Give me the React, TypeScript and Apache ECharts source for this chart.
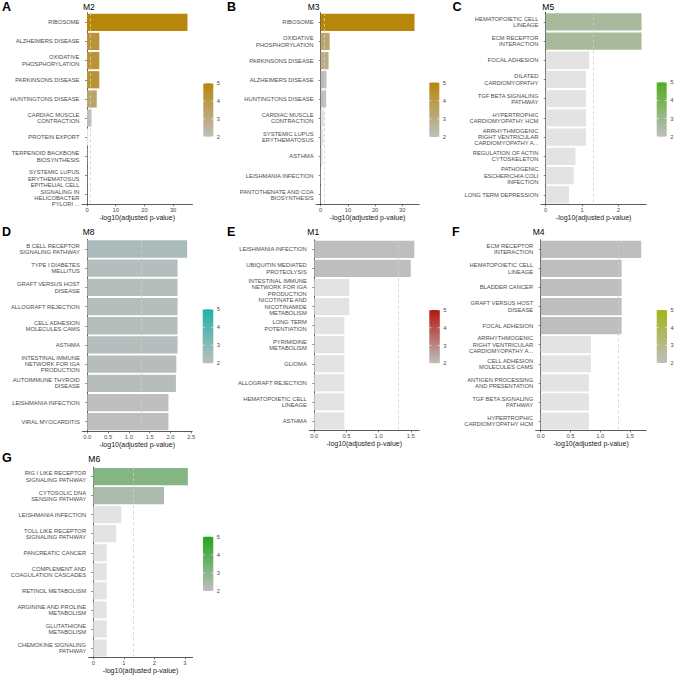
import React, { useEffect, useRef } from "react";
import * as echarts from "echarts";

// ---------- data ----------
const catsA = ["RIBOSOME", "ALZHEIMERS DISEASE", "OXIDATIVE\nPHOSPHORYLATION", "PARKINSONS DISEASE", "HUNTINGTONS DISEASE", "CARDIAC MUSCLE\nCONTRACTION", "PROTEIN EXPORT", "TERPENOID BACKBONE\nBIOSYNTHESIS", "SYSTEMIC LUPUS\nERYTHEMATOSUS", "EPITHELIAL CELL\nSIGNALING IN\nHELICOBACTER\nPYLORI ..."];
const valsA = [35, 4.3, 4.3, 4.3, 3.4, 1.6, 0.4, 0.1, 0.06, 0.05];
const ticksA = [0, 10, 20, 30];

const catsB = ["RIBOSOME", "OXIDATIVE\nPHOSPHORYLATION", "PARKINSONS DISEASE", "ALZHEIMERS DISEASE", "HUNTINGTONS DISEASE", "CARDIAC MUSCLE\nCONTRACTION", "SYSTEMIC LUPUS\nERYTHEMATOSUS", "ASTHMA", "LEISHMANIA INFECTION", "PANTOTHENATE AND COA\nBIOSYNTHESIS"];
const valsB = [34.5, 3.3, 2.9, 2.1, 2.0, 1.2, 1.0, 0.7, 0.2, 0.1];
const ticksB = [0, 10, 20, 30];

const catsC = ["HEMATOPOIETIC CELL\nLINEAGE", "ECM RECEPTOR\nINTERACTION", "FOCAL ADHESION", "DILATED\nCARDIOMYOPATHY", "TGF BETA SIGNALING\nPATHWAY", "HYPERTROPHIC\nCARDIOMYOPATHY HCM", "ARRHYTHMOGENIC\nRIGHT VENTRICULAR\nCARDIOMYOPATHY A...", "REGULATION OF ACTIN\nCYTOSKELETON", "PATHOGENIC\nESCHERICHIA COLI\nINFECTION", "LONG TERM DEPRESSION"];
const valsC = [2.64, 2.64, 1.2, 1.11, 1.11, 1.11, 1.11, 0.82, 0.77, 0.64];
const ticksC = [0, 1, 2];

const catsD = ["B CELL RECEPTOR\nSIGNALING PATHWAY", "TYPE I DIABETES\nMELLITUS", "GRAFT VERSUS HOST\nDISEASE", "ALLOGRAFT REJECTION", "CELL ADHESION\nMOLECULES CAMS", "ASTHMA", "INTESTINAL IMMUNE\nNETWORK FOR IGA\nPRODUCTION", "AUTOIMMUNE THYROID\nDISEASE", "LEISHMANIA INFECTION", "VIRAL MYOCARDITIS"];
const valsD = [2.4, 2.17, 2.17, 2.17, 2.17, 2.17, 2.14, 2.13, 1.95, 1.95];
const ticksD = [0, 0.5, 1, 1.5, 2, 2.5];

const catsE = ["LEISHMANIA INFECTION", "UBIQUITIN MEDIATED\nPROTEOLYSIS", "INTESTINAL IMMUNE\nNETWORK FOR IGA\nPRODUCTION", "NICOTINATE AND\nNICOTINAMIDE\nMETABOLISM", "LONG TERM\nPOTENTIATION", "PYRIMIDINE\nMETABOLISM", "GLIOMA", "ALLOGRAFT REJECTION", "HEMATOPOIETIC CELL\nLINEAGE", "ASTHMA"];
const valsE = [1.555, 1.5, 0.545, 0.545, 0.467, 0.467, 0.467, 0.467, 0.467, 0.467];
const ticksE = [0, 0.5, 1, 1.5];

const catsF = ["ECM RECEPTOR\nINTERACTION", "HEMATOPOIETIC CELL\nLINEAGE", "BLADDER CANCER", "GRAFT VERSUS HOST\nDISEASE", "FOCAL ADHESION", "ARRHYTHMOGENIC\nRIGHT VENTRICULAR\nCARDIOMYOPATHY A...", "CELL ADHESION\nMOLECULES CAMS", "ANTIGEN PROCESSING\nAND PRESENTATION", "TGF BETA SIGNALING\nPATHWAY", "HYPERTROPHIC\nCARDIOMYOPATHY HCM"];
const valsF = [1.69, 1.36, 1.36, 1.36, 1.36, 0.845, 0.845, 0.81, 0.81, 0.81];
const ticksF = [0, 0.5, 1, 1.5];

const catsG = ["RIG I LIKE RECEPTOR\nSIGNALING PATHWAY", "CYTOSOLIC DNA\nSENSING PATHWAY", "LEISHMANIA INFECTION", "TOLL LIKE RECEPTOR\nSIGNALING PATHWAY", "PANCREATIC CANCER", "COMPLEMENT AND\nCOAGULATION CASCADES", "RETINOL METABOLISM", "ARGININE AND PROLINE\nMETABOLISM", "GLUTATHIONE\nMETABOLISM", "CHEMOKINE SIGNALING\nPATHWAY"];
const valsG = [3.1, 2.32, 0.92, 0.75, 0.44, 0.44, 0.44, 0.44, 0.44, 0.44];
const ticksG = [0, 1, 2, 3];

const colorBreaks = [2, 3, 4, 5];
const SIG_LINE = 1.301; // -log10(0.05)
const X_TITLE = "-log10(adjusted p-value)";

// ---------- styling / layout ----------
const FONT = "'Liberation Sans', Arial, Helvetica, sans-serif";
const LOW = "#bebebe";
const NA_COLOR = "#e3e3e3";
const TEXT_GREY = "#4d4d4d";

const panels = [
  { letter: "A", title: "M2", cats: catsA, vals: valsA, ticks: ticksA, dec: 0, high: "#b8860b",
    x0: 87, scale: 2.87, top: 12.7, height: 191.6, titleX: 83, titleY: 6.5, lx: 2, ly: 7.3,
    cb: { x: 203.3, y: 83.3, w: 10, h: 53.4 } },
  { letter: "B", title: "M3", cats: catsB, vals: valsB, ticks: ticksB, dec: 0, high: "#b8860b",
    x0: 320.7, scale: 2.72, top: 12.7, height: 191.6, titleX: 307.7, titleY: 6.5, lx: 227, ly: 7.3,
    cb: { x: 429.3, y: 82.5, w: 10, h: 54.5 } },
  { letter: "C", title: "M5", cats: catsC, vals: valsC, ticks: ticksC, dec: 0, high: "#52ae1e",
    x0: 545.7, scale: 36.3, top: 12.2, height: 192.2, titleX: 542.3, titleY: 6.5, lx: 452.5, ly: 7.3,
    cb: { x: 656.7, y: 82.3, w: 10, h: 54.4 } },
  { letter: "D", title: "M8", cats: catsD, vals: valsD, ticks: ticksD, dec: 1, high: "#20b0ab",
    x0: 87.3, scale: 41.6, top: 239.4, height: 191.9, titleX: 82.7, titleY: 232.3, lx: 2, ly: 232.3,
    cb: { x: 202.7, y: 309.3, w: 10.6, h: 54 } },
  { letter: "E", title: "M1", cats: catsE, vals: valsE, ticks: ticksE, dec: 1, high: "#b3170e",
    x0: 314.3, scale: 64.3, top: 239.8, height: 190.7, titleX: 307.3, titleY: 232.3, lx: 227, ly: 232.3,
    cb: { x: 429.3, y: 310, w: 10.5, h: 53.3 } },
  { letter: "F", title: "M4", cats: catsF, vals: valsF, ticks: ticksF, dec: 1, high: "#a2b417",
    x0: 540.7, scale: 59.5, top: 239.8, height: 190.7, titleX: 532.7, titleY: 232.3, lx: 452, ly: 232.3,
    cb: { x: 656.7, y: 310, w: 10.3, h: 53 } },
  { letter: "G", title: "M6", cats: catsG, vals: valsG, ticks: ticksG, dec: 0, high: "#22a61c",
    x0: 93.3, scale: 30.5, top: 467.1, height: 190.4, titleX: 88.3, titleY: 459, lx: 2, ly: 457.8,
    cb: { x: 203, y: 536.7, w: 10.3, h: 54.3 } },
];

// fill: significant terms are coloured on the 2..5 scale (squished), others NA
const fillOf = (v: number) => (v > SIG_LINE ? Math.min(Math.max(v, 2), 5) : -1);

function buildOption() {
  const grid: any[] = [];
  const xAxis: any[] = [];
  const yAxis: any[] = [];
  const series: any[] = [];
  const graphic: any[] = [];

  panels.forEach((p, i) => {
    const maxV = Math.max(...p.vals);
    const min = -0.05 * maxV;
    const max = 1.05 * maxV;
    const left = p.x0 + min * p.scale;
    const width = (max - min) * p.scale;
    grid.push({ left, top: p.top, width, height: p.height, containLabel: false, outerBoundsMode: "none" });
    xAxis.push({
      type: "value", gridIndex: i, min, max,
      axisLine: { show: true, onZero: false, lineStyle: { color: "#333", width: 0.8 } },
      axisTick: { show: true, length: 2, customValues: p.ticks, lineStyle: { color: "#333", width: 0.6 } },
      axisLabel: { customValues: p.ticks, fontSize: 5.8, color: TEXT_GREY, fontFamily: FONT, margin: 2.5,
        formatter: (v: number) => v.toFixed(p.dec) },
      splitLine: { show: false },
      name: X_TITLE, nameLocation: "middle", nameGap: 9.8,
      nameTextStyle: { fontSize: 7, color: "#1a1a1a", fontFamily: FONT },
    });
    yAxis.push({
      type: "category", gridIndex: i, data: p.cats, inverse: true,
      axisLine: { show: true, lineStyle: { color: "#333", width: 0.8 } },
      axisTick: { show: true, alignWithLabel: true, length: 2, lineStyle: { color: "#333", width: 0.6 } },
      axisLabel: { interval: 0, fontSize: 5.8, lineHeight: 6.3, color: TEXT_GREY, fontFamily: FONT, margin: 2.5 },
      splitLine: { show: false },
    });
    const high = p.high;
    series.push({
      type: "bar", xAxisIndex: i, yAxisIndex: i, silent: true,
      barCategoryGap: "10%",
      encode: { x: 0, y: 1 },
      data: p.vals.map((v, j) => [v, p.cats[j], fillOf(v)]),
      itemStyle: {
        color: (params: any) => {
          const f = params.data[2];
          if (f < 0) return NA_COLOR;
          return echarts.color.lerp((f - 2) / 3, [LOW, high]);
        },
      },
      markLine: {
        silent: true, symbol: "none", label: { show: false },
        lineStyle: { type: [3, 2.5], color: "#cfcfcf", width: 0.8 },
        data: [{ xAxis: SIG_LINE }],
      },
    });

    // panel letter + title
    graphic.push({ type: "text", x: p.lx, y: p.ly,
      style: { text: p.letter, font: `bold 12.5px ${FONT}`, fill: "#000", textVerticalAlign: "middle" } });
    graphic.push({ type: "text", x: p.titleX, y: p.titleY,
      style: { text: p.title, font: `8.5px ${FONT}`, fill: "#000", textVerticalAlign: "middle" } });

    // colour bar legend
    const cb = p.cb;
    graphic.push({ type: "rect", shape: { x: cb.x, y: cb.y, width: cb.w, height: cb.h },
      style: { fill: { type: "linear", x: 0, y: 0, x2: 0, y2: 1,
        colorStops: [{ offset: 0, color: p.high }, { offset: 1, color: LOW }] } } });
    colorBreaks.forEach((b) => {
      const yy = cb.y + cb.h * (5 - b) / 3;
      graphic.push({ type: "line", shape: { x1: cb.x, y1: yy, x2: cb.x + cb.w / 5, y2: yy },
        style: { stroke: "#fff", lineWidth: 0.6 } });
      graphic.push({ type: "line", shape: { x1: cb.x + cb.w * 4 / 5, y1: yy, x2: cb.x + cb.w, y2: yy },
        style: { stroke: "#fff", lineWidth: 0.6 } });
      graphic.push({ type: "text", x: cb.x + cb.w + 3.5, y: yy,
        style: { text: String(b), font: `5.8px ${FONT}`, fill: TEXT_GREY, textVerticalAlign: "middle" } });
    });
  });

  return {
    animation: false,
    backgroundColor: "#ffffff",
    textStyle: { fontFamily: FONT },
    grid, xAxis, yAxis, series, graphic,
  };
}

export default function App() {
  const ref = useRef<HTMLDivElement>(null);
  useEffect(() => {
    if (!ref.current) return;
    const chart = echarts.init(ref.current, undefined, { renderer: "svg" });
    chart.setOption(buildOption() as any);
    return () => chart.dispose();
  }, []);
  return (
    <div
      ref={ref}
      style={{ position: "absolute", left: 0, top: 0, width: 676, height: 676, background: "#fff" }}
    />
  );
}
